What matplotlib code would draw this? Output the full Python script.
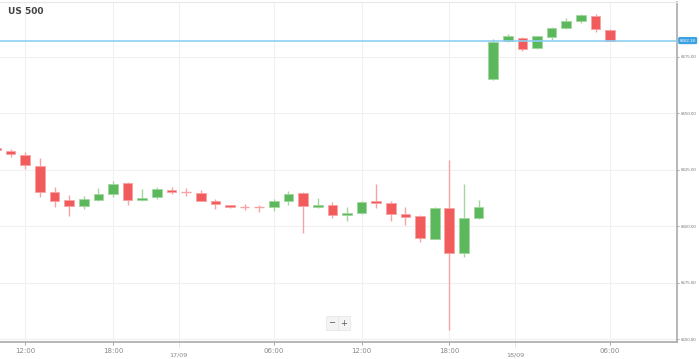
import matplotlib
matplotlib.use('Agg')
import matplotlib.pyplot as plt

# hourly candles, index 0 = 12:00 on 16/09
idx = list(range(-2, 41))
opens = [6634.6, 6633.5, 6631.8, 6626.8, 6615.3, 6611.6, 6608.9, 6611.9, 6614.2, 6619.1,
         6611.7, 6613.0, 6616.3, 6615.4, 6615.0, 6611.3, 6609.4, 6608.7, 6608.8, 6608.5,
         6611.4, 6614.7, 6608.6, 6609.5, 6605.0, 6606.0, 6611.1, 6610.5, 6605.5, 6604.6,
         6594.6, 6608.3, 6588.1, 6603.9, 6665.3, 6681.8, 6683.5, 6678.8, 6683.7, 6687.8,
         6690.9, 6693.1, 6686.8]
closes = [6633.8, 6631.9, 6627.1, 6615.4, 6611.1, 6608.9, 6612.0, 6614.4, 6618.7, 6611.7,
          6612.7, 6616.5, 6615.4, 6615.1, 6611.4, 6609.8, 6608.5, 6608.5, 6608.6, 6611.3,
          6614.4, 6608.9, 6609.5, 6605.0, 6605.8, 6611.0, 6610.4, 6605.5, 6604.3, 6594.8,
          6608.3, 6588.4, 6603.9, 6608.8, 6681.5, 6684.0, 6678.4, 6684.0, 6687.8, 6690.9,
          6693.3, 6687.3, 6682.2]
highs = [6635.2, 6634.2, 6632.7, 6630.3, 6617.6, 6613.8, 6613.5, 6616.9, 6620.1, 6619.8,
         6616.5, 6617.3, 6617.3, 6616.9, 6616.0, 6612.2, 6609.6, 6610.0, 6609.6, 6612.2,
         6615.7, 6615.1, 6612.5, 6611.0, 6608.8, 6611.4, 6618.7, 6611.3, 6608.8, 6605.1,
         6608.4, 6629.4, 6618.7, 6611.7, 6683.1, 6684.9, 6683.9, 6684.4, 6688.1, 6692.1,
         6694.0, 6694.0, 6687.5]
lows = [6633.5, 6630.6, 6625.3, 6612.9, 6608.8, 6604.8, 6607.6, 6611.4, 6612.9, 6609.6,
        6611.4, 6612.3, 6614.2, 6613.6, 6611.3, 6607.7, 6608.2, 6607.3, 6606.3, 6606.9,
        6609.6, 6597.0, 6608.0, 6603.6, 6602.6, 6605.4, 6608.0, 6602.6, 6600.7, 6593.3,
        6594.5, 6554.2, 6586.6, 6603.2, 6664.7, 6681.5, 6677.7, 6678.4, 6682.5, 6687.5,
        6689.9, 6685.8, 6682.2]

last_price = 6682.18
price_ticks = [6550, 6575, 6600, 6625, 6650, 6675]
time_ticks = [0, 6, 17, 23, 29, 40]
time_labels = ['12:00', '18:00', '06:00', '12:00', '18:00', '06:00']
date_ticks = [10.5, 33.5]
date_labels = ['17/09', '18/09']

red = '#f25b5b'
green = '#5cb85c'
wick_red = '#f7a3a3'
wick_green = '#a5d6a0'

fig = plt.figure(figsize=(6.99, 3.59), dpi=100)
ax = fig.add_axes([0, 0.0474, 0.9685, 0.9474])

for x, o, c, h, l in zip(idx, opens, closes, highs, lows):
    up = c >= o
    col = green if up else red
    wcol = wick_green if up else wick_red
    ax.vlines(x, l, h, color=wcol, lw=1, zorder=2)
    body = abs(c - o)
    if body < 0.35:
        ax.hlines((o + c) / 2, x - 0.33, x + 0.33, color=wcol, lw=1, zorder=3)
    else:
        ax.bar(x, body, bottom=min(o, c), width=0.66, color=col,
               edgecolor=wcol, lw=0.6, zorder=3)

ax.set_xlim(-1.73, 44.57)
ax.set_ylim(6548.9, 6699.3)

for y in price_ticks:
    ax.axhline(y, color='#f0f0f0', lw=0.8, zorder=0)
for x in time_ticks + date_ticks:
    ax.axvline(x, color='#f0f0f0', lw=0.8, zorder=0)

ax.axhline(last_price, color='#8ccff2', lw=1.2, zorder=4)

ax.yaxis.tick_right()
ax.set_yticks(price_ticks)
ax.set_yticklabels(['%.2f' % v for v in price_ticks], family='Liberation Sans')
ax.tick_params(axis='y', length=1.5, width=0.6, color='#999999', labelsize=3.2,
               labelcolor='#777777', pad=1)
ax.set_xticks(time_ticks)
ax.set_xticklabels(time_labels)
ax.tick_params(axis='x', length=2, width=0.6, color='#999999', labelsize=5,
               labelcolor='#888888', pad=2)

for x, lab in zip(date_ticks, date_labels):
    ax.annotate(lab, xy=(x, 0), xycoords=('data', 'axes fraction'),
                xytext=(0, -7.5), textcoords='offset points', ha='center', va='top',
                fontsize=4.6, color='#888888', annotation_clip=False)
    ax.plot([x, x], [0, -0.015], transform=ax.get_xaxis_transform(), color='#aaaaaa',
            lw=0.6, ls=':', clip_on=False)

ax.annotate('%.2f' % last_price, xy=(1, last_price), xycoords=('axes fraction', 'data'),
            xytext=(2, 0), textcoords='offset points', ha='left', va='center',
            fontsize=3.2, family='Liberation Sans', color='white', annotation_clip=False,
            bbox=dict(boxstyle='round,pad=0.2', fc='#3ba1e0', ec='#3ba1e0'))

ax.spines['left'].set_visible(False)
ax.spines['top'].set_color('#e8e8e8')
ax.spines['right'].set_color('#aaaaaa')
ax.spines['right'].set_linewidth(1.2)
ax.spines['bottom'].set_color('#aaaaaa')
ax.spines['bottom'].set_linewidth(1.2)

fig.text(8 / 699, 1 - 12 / 359, 'US 500', fontsize=6.5, fontweight='bold',
         color='#444444', va='center', ha='left')

# zoom buttons
fig.text(332 / 699, 1 - 323 / 359, '\u2212', fontsize=6, color='#555555',
         ha='center', va='center',
         bbox=dict(boxstyle='square,pad=0.25', fc='#f4f4f4', ec='#e4e4e4', lw=0.5))
fig.text(344 / 699, 1 - 323 / 359, '+', fontsize=6, color='#555555',
         ha='center', va='center',
         bbox=dict(boxstyle='square,pad=0.25', fc='#f4f4f4', ec='#e4e4e4', lw=0.5))

fig.savefig('out.png', dpi=100)
